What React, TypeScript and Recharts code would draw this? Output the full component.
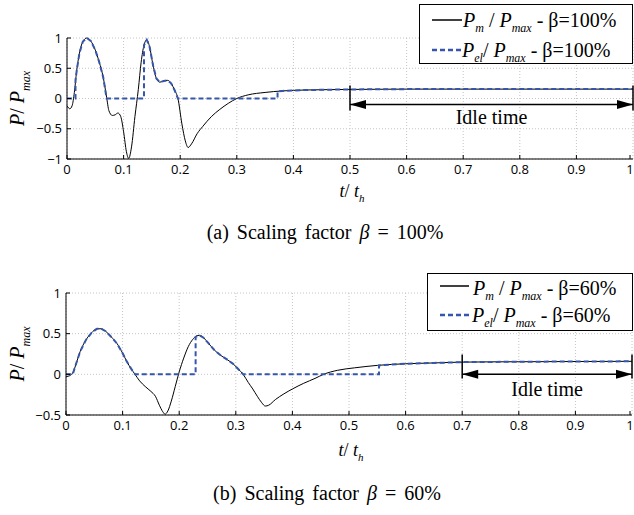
import React from 'react';
import { LineChart, Line, XAxis, YAxis, CartesianGrid, ReferenceLine, Legend } from 'recharts';

// ---------- ticks ----------
const xTicks = [0, 0.1, 0.2, 0.3, 0.4, 0.5, 0.6, 0.7, 0.8, 0.9, 1];
const yTicksA = [-1, -0.5, 0, 0.5, 1];
const yTicksB = [-0.5, 0, 0.5, 1];

// ---------- (a) beta = 100% ----------
const tPmA = [0, 0.005, 0.009, 0.013, 0.017, 0.022, 0.028, 0.035, 0.042, 0.05, 0.057, 0.064, 0.07, 0.074, 0.08, 0.085, 0.09, 0.095, 0.1, 0.105, 0.109, 0.114, 0.12, 0.126, 0.131, 0.136, 0.141, 0.146, 0.152, 0.158, 0.164, 0.171, 0.178, 0.184, 0.19, 0.196, 0.203, 0.209, 0.214, 0.22, 0.23, 0.24, 0.255, 0.27, 0.285, 0.3, 0.32, 0.35, 0.38, 0.42, 0.5, 0.6, 0.8, 1.0];
const pmA = [-0.12, -0.17, -0.12, 0.1, 0.45, 0.75, 0.94, 1.0, 0.95, 0.8, 0.6, 0.35, 0.02, -0.2, -0.28, -0.27, -0.24, -0.3, -0.55, -0.88, -0.99, -0.8, -0.3, 0.15, 0.6, 0.88, 0.97, 0.85, 0.55, 0.33, 0.27, 0.29, 0.3, 0.25, 0.14, 0, -0.42, -0.7, -0.81, -0.75, -0.58, -0.46, -0.3, -0.18, -0.08, 0, 0.06, 0.1, 0.125, 0.14, 0.15, 0.155, 0.155, 0.155];
const tPelA = [0, 0.015, 0.015, 0.017, 0.022, 0.028, 0.035, 0.042, 0.05, 0.057, 0.064, 0.07, 0.136, 0.136, 0.141, 0.146, 0.152, 0.158, 0.164, 0.171, 0.178, 0.184, 0.19, 0.196, 0.372, 0.372, 0.38, 0.42, 0.5, 0.6, 0.8, 1.0];
const pelA = [0, 0, 0.3, 0.45, 0.75, 0.94, 1.0, 0.95, 0.8, 0.6, 0.35, 0, 0, 0.88, 0.97, 0.85, 0.55, 0.33, 0.27, 0.29, 0.3, 0.25, 0.14, 0, 0, 0.12, 0.125, 0.14, 0.15, 0.155, 0.155, 0.155];
const idleStartA = 0.5;
const idleEndA = 1;
const idleArrowA = -0.1;
const idleBarTopA = 0.215;
const idleBarBottomA = -0.2;

// ---------- (b) beta = 60% ----------
const tPmB = [0, 0.008, 0.012, 0.015, 0.025, 0.035, 0.045, 0.055, 0.062, 0.07, 0.08, 0.09, 0.1, 0.108, 0.115, 0.122, 0.13, 0.14, 0.15, 0.158, 0.165, 0.171, 0.175, 0.18, 0.186, 0.193, 0.2, 0.208, 0.216, 0.224, 0.23, 0.236, 0.243, 0.252, 0.262, 0.272, 0.285, 0.295, 0.305, 0.313, 0.322, 0.33, 0.338, 0.346, 0.352, 0.358, 0.37, 0.385, 0.4, 0.42, 0.44, 0.455, 0.48, 0.51, 0.55, 0.6, 0.65, 0.7, 0.8, 1.0];
const pmB = [-0.03, -0.01, 0.02, 0.07, 0.28, 0.42, 0.51, 0.56, 0.56, 0.53, 0.46, 0.38, 0.26, 0.15, 0.07, 0, -0.08, -0.15, -0.21, -0.27, -0.38, -0.46, -0.49, -0.45, -0.33, -0.15, 0.03, 0.2, 0.34, 0.43, 0.47, 0.48, 0.45, 0.38, 0.3, 0.24, 0.18, 0.13, 0.06, 0, -0.1, -0.18, -0.27, -0.35, -0.39, -0.38, -0.31, -0.24, -0.18, -0.11, -0.05, 0, 0.05, 0.08, 0.11, 0.13, 0.14, 0.15, 0.155, 0.16];
const tPelB = [0, 0.012, 0.015, 0.025, 0.035, 0.045, 0.055, 0.062, 0.07, 0.08, 0.09, 0.1, 0.108, 0.115, 0.122, 0.229, 0.229, 0.236, 0.243, 0.252, 0.262, 0.272, 0.285, 0.295, 0.305, 0.313, 0.553, 0.553, 0.6, 0.65, 0.7, 0.8, 1.0];
const pelB = [0, 0, 0.07, 0.28, 0.42, 0.51, 0.56, 0.56, 0.53, 0.46, 0.38, 0.26, 0.15, 0.07, 0, 0, 0.46, 0.48, 0.45, 0.38, 0.3, 0.24, 0.18, 0.13, 0.06, 0, 0, 0.11, 0.13, 0.14, 0.15, 0.155, 0.16];
const idleStartB = 0.7;
const idleEndB = 1;
const idleArrowB = 0;
const idleBarTopB = 0.245;
const idleBarBottomB = -0.05;

const toData = (ts: number[], vs: number[]) => ts.map((t, i) => ({ t, v: vs[i] }));

const BLUE = '#3556ac';
const SERIF = '"Liberation Serif", "Times New Roman", serif';
const SANS = '"Open Sans", "Liberation Sans", sans-serif';

const fmt = (v: number) => (v < 0 ? '\u2212' + String(Math.abs(v)) : String(v));

const XTick = (props: any) => {
  const { x, y, payload } = props;
  return (
    <g>
      <line x1={x} x2={x} y1={y - 6} y2={y - 10} stroke="#000" strokeWidth={1} />
      <text x={x} y={y} dy="0.71em" textAnchor="middle" fontFamily={SANS} fontSize={13} fill="#000">
        {fmt(payload.value)}
      </text>
    </g>
  );
};

const YTick = (props: any) => {
  const { x, y, payload } = props;
  return (
    <g>
      <line x1={x + 5} x2={x + 9} y1={y} y2={y} stroke="#000" strokeWidth={1} />
      <text x={x} y={y} dy="0.355em" textAnchor="end" fontFamily={SANS} fontSize={13} fill="#000">
        {fmt(payload.value)}
      </text>
    </g>
  );
};

const YLabel = (props: any) => {
  const vb = props.viewBox || { x: 0, y: 0, width: 67, height: 120 };
  const cx = vb.x + 24;
  const cy = vb.y + vb.height / 2;
  return (
    <text
      x={cx}
      y={cy}
      transform={`rotate(-90, ${cx}, ${cy})`}
      textAnchor="middle"
      fontFamily={SERIF}
      fontSize={20}
      fill="#000"
    >
      <tspan fontStyle="italic">P</tspan>
      <tspan>/ </tspan>
      <tspan fontStyle="italic">P</tspan>
      <tspan fontStyle="italic" fontSize={12} dy={6}>max</tspan>
    </text>
  );
};

const makeXLabel = (off: number) => (props: any) => {
  const vb = props.viewBox || { x: 67, y: 159, width: 566, height: 40 };
  const cx = vb.x + vb.width / 2 + 2;
  const cy = vb.y + off;
  return (
    <text x={cx} y={cy} textAnchor="middle" fontFamily={SERIF} fontSize={18} fill="#000">
      <tspan fontStyle="italic">t</tspan>
      <tspan>/ </tspan>
      <tspan fontStyle="italic">t</tspan>
      <tspan fontStyle="italic" fontSize={11} dy={5}>h</tspan>
    </text>
  );
};

const makeIdleArrow = (textDy: number) => (props: any) => {
  const { x1, y1, x2 } = props;
  const len = 16;
  const hh = 4.5;
  return (
    <g>
      <line x1={x1} y1={y1} x2={x2} y2={y1} stroke="#000" strokeWidth={1.5} />
      <polygon points={`${x1},${y1} ${x1 + len},${y1 - hh} ${x1 + len},${y1 + hh}`} fill="#000" />
      <polygon points={`${x2},${y1} ${x2 - len},${y1 - hh} ${x2 - len},${y1 + hh}`} fill="#000" />
      <text x={(x1 + x2) / 2} y={y1 + textDy} textAnchor="middle" fontFamily={SERIF} fontSize={20} fill="#000">
        Idle time
      </text>
    </g>
  );
};

const makeLegend = (pct: string, w: number, h: number, rows: number[], bases: number[], lx: number[], tx: number) => () => (
  <svg width={w} height={h} style={{ display: 'block' }}>
    <rect x={0.5} y={0.5} width={w - 1} height={h - 1} fill="#fff" stroke="#000" strokeWidth={1} />
    <line x1={lx[0]} y1={rows[0]} x2={lx[1]} y2={rows[0]} stroke="#000" strokeWidth={1.5} />
    <line x1={lx[0]} y1={rows[1]} x2={lx[1]} y2={rows[1]} stroke={BLUE} strokeWidth={2.5} strokeDasharray="5 3" />
    <text x={tx} y={bases[0]} fontFamily={SERIF} fontSize={20} fill="#000">
      <tspan fontStyle="italic">P</tspan>
      <tspan fontStyle="italic" fontSize={12} dy={5}>m</tspan>
      <tspan dy={-5}> / </tspan>
      <tspan fontStyle="italic">P</tspan>
      <tspan fontStyle="italic" fontSize={12} dy={5}>max</tspan>
      <tspan dy={-5}>{` - \u03B2=${pct}`}</tspan>
    </text>
    <text x={tx - 1} y={bases[1]} fontFamily={SERIF} fontSize={20} fill="#000">
      <tspan fontStyle="italic">P</tspan>
      <tspan fontStyle="italic" fontSize={12} dy={5}>el</tspan>
      <tspan dy={-5}>/ </tspan>
      <tspan fontStyle="italic">P</tspan>
      <tspan fontStyle="italic" fontSize={12} dy={5}>max</tspan>
      <tspan dy={-5}>{` - \u03B2=${pct}`}</tspan>
    </text>
  </svg>
);

export default function App() {
  const pmDataA = toData(tPmA, pmA);
  const pelDataA = toData(tPelA, pelA);
  const pmDataB = toData(tPmB, pmB);
  const pelDataB = toData(tPelB, pelB);

  return (
    <div style={{ position: 'absolute', left: 0, top: 0, width: 634, height: 515, background: '#fff', overflow: 'hidden' }}>
      <div style={{ position: 'absolute', left: 0, top: 0 }}>
        <LineChart width={634} height={215} margin={{ top: 38, right: 1, bottom: 0, left: 0 }}>
          <CartesianGrid stroke="#c4c4c4" strokeDasharray="1 2" />
          <XAxis
            type="number"
            dataKey="t"
            domain={[0, 1]}
            ticks={xTicks}
            height={56}
            tickLine={false}
            tickSize={6}
            tickMargin={0}
            axisLine={{ stroke: '#000' }}
            tick={XTick}
            label={makeXLabel(38)}
            allowDuplicatedCategory={false}
          />
          <YAxis
            type="number"
            domain={[-1, 1]}
            ticks={yTicksA}
            width={67}
            tickLine={false}
            tickSize={3}
            tickMargin={2}
            axisLine={{ stroke: '#000' }}
            tick={YTick}
            label={YLabel}
          />
          <Line data={pmDataA} dataKey="v" type="monotone" stroke="#000" strokeWidth={1} dot={false} isAnimationActive={false} name="Pm" />
          <Line data={pelDataA} dataKey="v" type="linear" stroke={BLUE} strokeWidth={2} strokeDasharray="5 3" dot={false} isAnimationActive={false} name="Pel" />
          <ReferenceLine segment={[{ x: idleStartA, y: idleBarTopA }, { x: idleStartA, y: idleBarBottomA }]} stroke="#000" strokeWidth={1.5} ifOverflow="visible" />
          <ReferenceLine segment={[{ x: idleEndA, y: idleBarTopA }, { x: idleEndA, y: idleBarBottomA }]} stroke="#000" strokeWidth={1.5} ifOverflow="visible" />
          <ReferenceLine segment={[{ x: idleStartA, y: idleArrowA }, { x: idleEndA, y: idleArrowA }]} ifOverflow="visible" shape={makeIdleArrow(19)} />
          <Legend
            layout="horizontal"
            align="center"
            verticalAlign="middle"
            content={makeLegend('100%', 214, 60, [16, 46], [23, 53], [13, 43], 44)}
            wrapperStyle={{ left: 419, top: 4, width: 214, height: 60 }}
          />
        </LineChart>
      </div>

      <div style={{ position: 'absolute', left: 0, top: 250 }}>
        <LineChart width={634} height={222} margin={{ top: 43, right: 2, bottom: 0, left: 0 }}>
          <CartesianGrid stroke="#c4c4c4" strokeDasharray="1 2" />
          <XAxis
            type="number"
            dataKey="t"
            domain={[0, 1]}
            ticks={xTicks}
            height={57}
            tickLine={false}
            tickSize={6}
            tickMargin={0}
            axisLine={{ stroke: '#000' }}
            tick={XTick}
            label={makeXLabel(41)}
            allowDuplicatedCategory={false}
          />
          <YAxis
            type="number"
            domain={[-0.5, 1]}
            ticks={yTicksB}
            width={66}
            tickLine={false}
            tickSize={3}
            tickMargin={2}
            axisLine={{ stroke: '#000' }}
            tick={YTick}
            label={YLabel}
          />
          <Line data={pmDataB} dataKey="v" type="monotone" stroke="#000" strokeWidth={1} dot={false} isAnimationActive={false} name="Pm" />
          <Line data={pelDataB} dataKey="v" type="linear" stroke={BLUE} strokeWidth={2} strokeDasharray="5 3" dot={false} isAnimationActive={false} name="Pel" />
          <ReferenceLine segment={[{ x: idleStartB, y: idleBarTopB }, { x: idleStartB, y: idleBarBottomB }]} stroke="#000" strokeWidth={1.5} ifOverflow="visible" />
          <ReferenceLine segment={[{ x: idleEndB, y: idleBarTopB }, { x: idleEndB, y: idleBarBottomB }]} stroke="#000" strokeWidth={1.5} ifOverflow="visible" />
          <ReferenceLine segment={[{ x: idleStartB, y: idleArrowB }, { x: idleEndB, y: idleArrowB }]} ifOverflow="visible" shape={makeIdleArrow(22)} />
          <Legend
            layout="horizontal"
            align="center"
            verticalAlign="middle"
            content={makeLegend('60%', 206, 58, [13, 42], [22, 49], [13, 42], 46)}
            wrapperStyle={{ left: 427, top: 23, width: 206, height: 58 }}
          />
        </LineChart>
      </div>

      <svg width={634} height={515} style={{ position: 'absolute', left: 0, top: 0, pointerEvents: 'none' }}>
        <text x={325} y={239} textAnchor="middle" fontFamily={SERIF} fontSize={20} fill="#000" wordSpacing={3}>
          <tspan>(a) Scaling factor </tspan>
          <tspan fontStyle="italic">{'\u03B2'}</tspan>
          <tspan>{' = 100%'}</tspan>
        </text>
        <text x={327} y={500} textAnchor="middle" fontFamily={SERIF} fontSize={20} fill="#000" wordSpacing={3}>
          <tspan>(b) Scaling factor </tspan>
          <tspan fontStyle="italic">{'\u03B2'}</tspan>
          <tspan>{' = 60%'}</tspan>
        </text>
      </svg>
    </div>
  );
}
